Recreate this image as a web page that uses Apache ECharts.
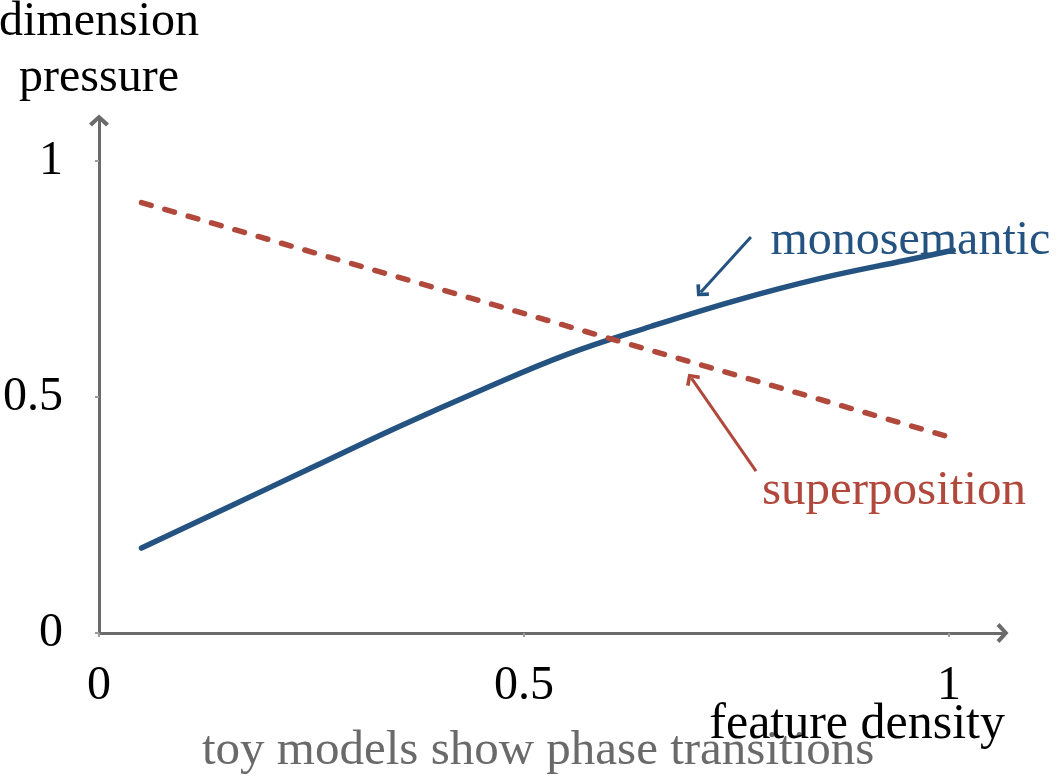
<!DOCTYPE html>
<html>
<head>
<meta charset="utf-8">
<script src="https://cdn.jsdelivr.net/npm/echarts@6/dist/echarts.min.js"></script>
<style>html,body{margin:0;padding:0;background:#fff}#c{width:1057px;height:776px}</style>
</head>
<body>
<div id="c"></div>
<script>
// ---- data ----
const monoX = [0.05, 0.15, 0.25, 0.35, 0.45, 0.55, 0.65, 0.75, 0.85, 0.95, 1.005];
const monoY = [0.18, 0.265, 0.35, 0.435, 0.515, 0.59, 0.65, 0.705, 0.752, 0.79, 0.811];
const superX = [0.05, 1.005];
const superY = [0.912, 0.413];
const xTicks = [0, 0.5, 1];
const yTicks = [0, 0.5, 1];
const monoLabel = 'monosemantic';
const superLabel = 'superposition';
const monoArrow = [[0.767, 0.839], [0.708, 0.722]];
const superArrow = [[0.773, 0.343], [0.697, 0.540]];
const monoLabelAt = [0.79, 0.83];
const superLabelAt = [0.78, 0.30];
const xName = 'feature density';
const yName = 'dimension\npressure';
const titleText = 'toy models show phase transitions';

const BLUE = '#245381';
const RED = '#b0483c';
const AXIS = '#6b6b6b';
const TICK = '#9c9c9c';
const FONT = '"Liberation Serif", "DejaVu Serif", serif';
const FS = 48;
const chevron = 'path://M10,0 L20,9 L17,12 L10,5.2 L3,12 L0,9 Z';

const chart = echarts.init(document.getElementById('c'), null, {renderer: 'canvas'});
const common = {
  type: 'value', min: 0, interval: 0.5, splitLine: {show: false}
};
chart.setOption({
  animation: false,
  backgroundColor: '#ffffff',
  title: [
    {
      text: titleText, left: 197, top: 722,
      textStyle: {fontFamily: FONT, fontSize: 49, fontWeight: 'normal', color: '#6a6a6a'}
    },
    {
      text: xName, right: 47, top: 695,
      textStyle: {fontFamily: FONT, fontSize: 50, fontWeight: 'normal', color: '#000'}
    }
  ],
  grid: {left: 99, top: 120.5, width: 903.5, height: 512.5, containLabel: false, outerBoundsMode: 'none'},
  xAxis: [
    Object.assign({}, common, {
      max: 1.063,
      axisLine: {show: true, lineStyle: {color: AXIS, width: 3}, symbol: ['none', chevron], symbolSize: [21, 12]},
      axisTick: {show: true, length: 4, lineStyle: {color: TICK, width: 2}, customValues: xTicks},
      axisLabel: {show: true, customValues: xTicks, margin: 29, fontFamily: FONT, fontSize: FS, color: '#000'}
    }),
    Object.assign({}, common, {
      max: 1.063,
      axisLine: {show: false},
      axisTick: {show: true, inside: true, length: 4, lineStyle: {color: TICK, width: 2}, customValues: xTicks},
      axisLabel: {show: false}
    })
  ],
  yAxis: [
    Object.assign({}, common, {
      max: 1.086,
      name: yName, nameLocation: 'end', nameGap: 14,
      nameTextStyle: {fontFamily: FONT, fontSize: FS, color: '#000', align: 'center', lineHeight: 56},
      axisLine: {show: true, lineStyle: {color: AXIS, width: 3}, symbol: ['none', chevron], symbolSize: [21, 12]},
      axisTick: {show: true, length: 4, lineStyle: {color: TICK, width: 2}, customValues: yTicks},
      axisLabel: {show: true, customValues: yTicks, margin: 36, fontFamily: FONT, fontSize: FS, color: '#000'}
    }),
    Object.assign({}, common, {
      max: 1.086,
      axisLine: {show: false},
      axisTick: {show: true, inside: true, length: 4, lineStyle: {color: TICK, width: 2}, customValues: yTicks},
      axisLabel: {show: false}
    })
  ],
  series: [
    {
      name: monoLabel, type: 'line', xAxisIndex: 0, yAxisIndex: 0,
      data: monoX.map((x, i) => [x, monoY[i]]),
      smooth: 0.4, showSymbol: false, symbol: 'none',
      lineStyle: {color: BLUE, width: 5.5, cap: 'round'},
      markLine: {
        silent: true, symbol: ['none', chevron], symbolSize: [17, 11],
        label: {show: false},
        lineStyle: {color: BLUE, width: 3, type: 'solid'},
        data: [[{coord: monoArrow[0]}, {coord: monoArrow[1]}]]
      },
      markPoint: {
        silent: true, symbol: 'circle', symbolSize: 0,
        data: [{coord: monoLabelAt, value: monoLabel}],
        label: {show: true, position: 'inside', align: 'left', verticalAlign: 'middle', formatter: monoLabel,
          fontFamily: FONT, fontSize: FS, color: BLUE}
      }
    },
    {
      name: superLabel, type: 'line', xAxisIndex: 0, yAxisIndex: 0,
      data: superX.map((x, i) => [x, superY[i]]),
      showSymbol: false, symbol: 'none',
      lineStyle: {color: RED, width: 5.5, type: [10, 14.3], cap: 'round'},
      markLine: {
        silent: true, symbol: ['none', chevron], symbolSize: [17, 11],
        label: {show: false},
        lineStyle: {color: RED, width: 3, type: 'solid'},
        data: [[{coord: superArrow[0]}, {coord: superArrow[1]}]]
      },
      markPoint: {
        silent: true, symbol: 'circle', symbolSize: 0,
        data: [{coord: superLabelAt, value: superLabel}],
        label: {show: true, position: 'inside', align: 'left', verticalAlign: 'middle', formatter: superLabel,
          fontFamily: FONT, fontSize: 49, color: RED}
      }
    }
  ]
});
</script>
</body>
</html>
